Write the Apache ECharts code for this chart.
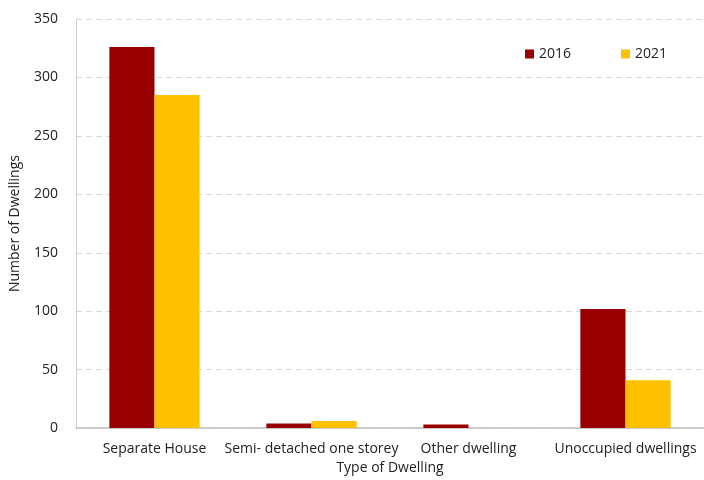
<!DOCTYPE html>
<html>
<head>
<meta charset="utf-8">
<script src="https://cdn.jsdelivr.net/npm/echarts@6/dist/echarts.min.js"></script>
<style>
  html, body { margin: 0; padding: 0; background: #fff; }
  #chart { width: 704px; height: 480px; }
</style>
</head>
<body>
<div id="chart"></div>
<script>
// Dwelling counts by type, 2016 vs 2021
const categories = ['Separate House', 'Semi- detached one storey', 'Other dwelling', 'Unoccupied dwellings'];
const values2016 = [326, 4, 3, 102];
const values2021 = [285, 6, 0, 41];
const seriesNames = ['2016', '2021'];

const FONT = '"Open Sans", "Liberation Sans", sans-serif';
const chart = echarts.init(document.getElementById('chart'), null, { renderer: 'canvas' });

chart.setOption({
  backgroundColor: '#ffffff',
  textStyle: { fontFamily: FONT },
  legend: {
    data: seriesNames,
    left: 520,
    top: 42,
    itemWidth: 9,
    itemHeight: 9,
    itemGap: 50,
    icon: 'rect',
    textStyle: { fontFamily: FONT, fontSize: 14, color: '#222' }
  },
  // plot area runs slightly past the right edge of the canvas
  grid: { left: 71, width: 641, top: 19, bottom: 50, containLabel: false },
  xAxis: {
    type: 'category',
    data: categories,
    name: 'Type of Dwelling',
    nameLocation: 'middle',
    nameGap: 31,
    nameTextStyle: { fontFamily: FONT, fontSize: 14, color: '#222', padding: [0, 0, 0, 0] },
    axisLine: { lineStyle: { color: '#bfbfbf', width: 1.5 } },
    axisTick: { show: false },
    axisLabel: { fontFamily: FONT, fontSize: 14, color: '#222', margin: 14, interval: 0 }
  },
  yAxis: {
    type: 'value',
    min: 0,
    max: 350,
    interval: 50,
    name: 'Number of Dwellings',
    nameLocation: 'middle',
    nameGap: 54,
    nameTextStyle: { fontFamily: FONT, fontSize: 14, color: '#222' },
    axisLine: { show: true, lineStyle: { color: '#d0d0d0', width: 1 } },
    axisTick: { show: false },
    axisLabel: { fontFamily: FONT, fontSize: 14, color: '#222', margin: 18 },
    splitLine: { lineStyle: { color: '#d9d9d9', type: [6, 4], width: 1 } }
  },
  series: [
    {
      name: seriesNames[0],
      type: 'bar',
      data: values2016,
      itemStyle: { color: '#990000' },
      barGap: '0%',
      barCategoryGap: '42.5%'
    },
    {
      name: seriesNames[1],
      type: 'bar',
      data: values2021,
      itemStyle: { color: '#FFC000' },
      barGap: '0%',
      barCategoryGap: '42.5%'
    }
  ]
});
</script>
</body>
</html>
